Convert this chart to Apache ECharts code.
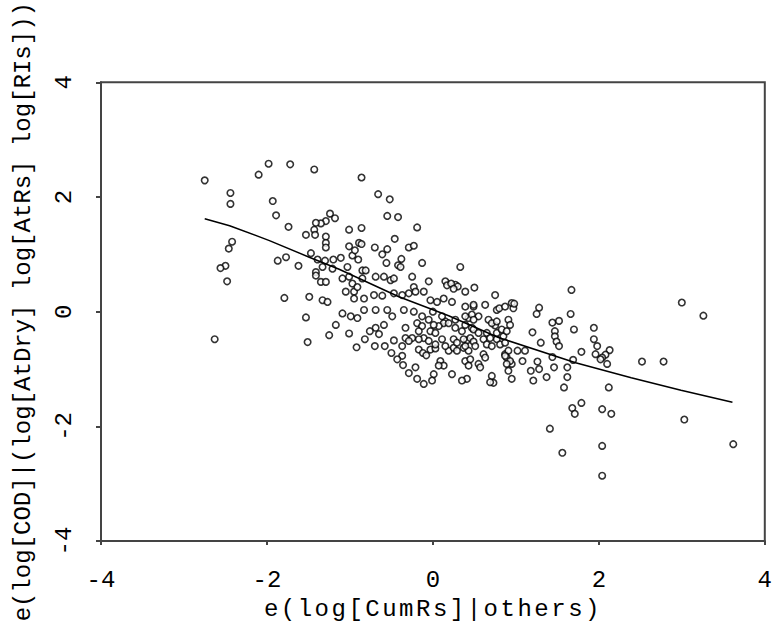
<!DOCTYPE html>
<html>
<head>
<meta charset="utf-8">
<script src="https://cdn.jsdelivr.net/npm/echarts@6/dist/echarts.min.js"></script>
<style>
html,body{margin:0;padding:0;background:#fff;}
#chart{width:775px;height:626px;}
</style>
</head>
<body>
<div id="chart"></div>
<script>
// Axis settings
const xTitle = 'e(log[CumRs]|others)';
const yTitle = 'e(log[COD]|(log[AtDry] log[AtRs] log[RIs]))';
const xTicks = [-4, -2, 0, 2, 4];
const yTicks = [-4, -2, 0, 2, 4];

// Scatter points (residual x, residual y)
const sx = [-2.75,-1.98,-1.72,-1.43,-2.10,-2.44,-2.44,-0.86,-0.66,-1.93,-1.89,-1.74,-1.24,-1.18,-1.29,-1.35,-1.41,-1.43,-1.53,-1.42,
-1.29,-1.29,-1.29,-1.01,-0.86,-1.01,-0.89,-0.86,-0.70,-2.42,-2.46,-2.50,-2.56,-1.87,-1.77,-1.62,-1.47,-1.39,-1.30,-1.20,
-1.11,-0.97,-0.94,-0.90,-1.03,-0.85,-1.33,-1.21,-2.63,-2.48,-1.79,-1.53,-1.51,-0.52,-0.55,-0.42,-0.19,-0.46,-0.55,-0.29,
-0.23,-0.61,-0.38,-0.13,0.33,-0.56,-0.42,-1.41,-1.41,-1.35,-1.29,-1.09,-1.01,-0.97,-0.85,-0.81,-0.69,-0.59,-0.51,-0.47,
-0.25,-0.05,0.15,0.17,0.27,0.39,0.50,-1.05,-0.95,-0.91,-0.95,-0.83,-1.49,-1.33,-1.27,-0.71,-0.61,-0.47,-0.37,-0.29,
-0.23,-0.21,-0.11,-0.03,0.05,0.13,0.23,0.39,0.49,0.63,0.77,-0.69,-0.55,-0.49,-0.35,-0.23,-0.13,0.00,-1.09,-0.99,
-0.91,-0.83,-1.17,-0.69,-0.59,0.15,0.27,0.43,0.55,0.67,0.75,0.47,0.22,0.30,0.25,0.75,1.67,0.49,0.80,0.87,
0.95,0.97,1.28,1.25,1.66,1.44,1.52,1.70,1.94,1.94,1.20,1.47,1.47,1.49,1.52,1.30,1.79,1.96,1.69,1.44,
1.62,1.46,1.37,1.62,1.58,1.28,1.18,1.21,1.08,1.02,1.11,0.95,0.95,0.71,0.73,0.69,0.41,0.35,0.23,0.01,
-0.21,-0.37,-0.17,-0.12,-0.03,0.03,-0.08,0.09,0.13,0.07,0.19,0.25,0.29,0.37,0.43,0.39,0.45,0.43,0.55,0.57,
0.61,0.63,0.87,0.89,0.91,0.77,0.81,0.87,0.61,0.65,0.71,0.41,0.45,0.49,0.39,0.51,0.25,0.29,0.37,0.27,
0.35,0.39,0.49,0.55,0.65,0.69,0.77,0.85,0.83,0.89,0.71,0.77,0.91,0.93,0.47,0.49,0.39,0.11,0.13,0.07,
0.19,-0.05,0.01,-0.03,0.03,-0.19,-0.13,-0.17,-0.11,-0.17,-0.25,-0.33,-0.33,-0.29,-0.37,-0.05,0.03,0.11,0.15,-0.39,
3.00,3.26,0.98,1.98,2.13,2.08,2.04,2.02,2.10,1.26,2.52,2.78,2.12,1.79,1.68,1.71,2.04,2.15,1.41,3.03,
2.04,1.56,3.62,2.04,0.93,0.89,0.91,0.87,-0.92,-0.76,-0.65,-0.58,-0.50,-0.43,-0.36,-0.47,-0.70,-0.82,-0.29,-0.19,
-0.11,-0.01,-1.01,-1.25];
const sy = [2.29,2.58,2.57,2.48,2.39,2.07,1.88,2.34,2.05,1.93,1.68,1.48,1.71,1.63,1.58,1.54,1.55,1.43,1.34,1.34,
1.31,1.20,1.12,1.43,1.46,1.14,1.20,1.18,1.12,1.22,1.10,0.80,0.76,0.89,0.95,0.80,1.02,0.91,0.89,0.91,
0.94,0.98,1.07,0.91,0.78,0.72,0.78,0.75,-0.48,0.53,0.24,-0.10,-0.53,1.96,1.67,1.65,1.47,1.27,1.09,1.12,
1.15,1.00,0.92,0.85,0.78,0.85,0.81,0.69,0.63,0.52,0.52,0.58,0.61,0.49,0.58,0.72,0.61,0.61,0.55,0.58,
0.61,0.53,0.53,0.46,0.47,0.35,0.42,0.35,0.35,0.43,0.23,0.23,0.26,0.20,0.17,0.29,0.28,0.32,0.29,0.32,
0.43,0.35,0.35,0.20,0.17,0.23,0.17,0.09,0.09,0.12,0.03,0.03,0.03,-0.08,0.03,0.00,-0.08,0.00,-0.03,-0.08,
-0.11,0.03,-0.23,-0.28,-0.23,-0.17,-0.14,-0.11,-0.08,-0.14,-0.24,-0.28,0.49,0.44,0.40,0.29,0.38,0.12,0.06,0.09,
0.15,0.06,0.07,-0.04,-0.04,-0.19,-0.16,-0.31,-0.28,-0.48,-0.36,-0.34,-0.43,-0.52,-0.60,-0.54,-0.70,-0.74,-0.84,-0.79,
-0.97,-0.97,-1.14,-1.14,-1.32,-1.00,-1.03,-1.20,-0.86,-0.68,-0.68,-0.91,-1.17,-1.12,-1.24,-1.23,-1.17,-1.20,-1.09,-1.09,
-0.97,-0.77,-0.66,-0.72,-0.66,-0.64,-0.76,-0.86,-0.94,-0.94,-0.68,-0.63,-0.68,-0.63,-0.68,-0.86,-0.83,-0.94,-0.91,-0.97,
-0.74,-0.80,-0.74,-0.80,-0.68,-0.48,-0.57,-0.54,-0.48,-0.57,-0.60,-0.50,-0.46,-0.52,-0.60,-0.60,-0.48,-0.54,-0.48,-0.28,
-0.34,-0.23,-0.31,-0.37,-0.37,-0.46,-0.37,-0.43,-0.31,-0.34,-0.20,-0.17,-0.14,-0.23,-0.05,-0.14,-0.08,-0.08,-0.20,-0.25,
-0.20,-0.14,-0.23,-0.34,-0.37,-0.20,-0.25,-0.34,-0.46,-0.48,-0.46,-0.28,-0.46,-0.51,-0.60,-0.51,-0.57,-0.48,-0.60,0.78,
0.16,-0.07,0.14,-0.60,-0.67,-0.75,-0.80,-0.83,-0.91,-0.87,-0.87,-0.87,-1.32,-1.59,-1.68,-1.78,-1.70,-1.78,-2.04,-1.88,
-2.34,-2.46,-2.31,-2.86,-0.86,-0.91,-1.03,-0.77,-0.62,-0.34,-0.39,-0.60,-0.72,-0.83,-0.93,-0.50,-0.60,-0.48,-1.07,-1.17,
-1.26,-1.20,-0.38,-0.41];

// Fitted smooth line
const lx = [-2.75,-2.45,-1.97,-1.49,-1.13,-0.41,0.19,0.79,1.72,2.39,2.99,3.61];
const ly = [1.62,1.50,1.24,0.95,0.74,0.26,-0.07,-0.45,-0.89,-1.15,-1.37,-1.58];

const points = sx.map((x, i) => [x, sy[i]]);
const linePts = lx.map((x, i) => [x, ly[i]]);

const FONT = 'Liberation Mono';
const AX = '#444';

const chart = echarts.init(document.getElementById('chart'), null, {renderer: 'svg'});
chart.on('finished', function () {
  document.querySelectorAll('#chart text').forEach(t => {
    if (t.textContent === xTitle) t.setAttribute('letter-spacing', '2.5px');
  });
});
chart.setOption({
  animation: false,
  backgroundColor: '#fff',
  grid: {left: 101, right: 8, top: 78, bottom: 83, show: true, borderColor: AX, borderWidth: 2, backgroundColor: 'transparent'},
  xAxis: {
    type: 'value', min: xTicks[0], max: xTicks[xTicks.length - 1], interval: 2,
    name: xTitle, nameLocation: 'middle', nameGap: 50,
    nameTextStyle: {fontFamily: FONT, fontSize: 24, color: '#000'},
    axisLine: {show: true, onZero: false, lineStyle: {color: AX, width: 2}},
    axisTick: {show: true, length: 4, lineStyle: {color: AX, width: 2}},
    axisLabel: {fontFamily: FONT, fontSize: 24, color: '#000', margin: 27},
    splitLine: {show: false}
  },
  yAxis: {
    type: 'value', min: yTicks[0], max: yTicks[yTicks.length - 1], interval: 2,
    name: yTitle, nameLocation: 'middle', nameGap: 66, nameRotate: 90,
    nameTextStyle: {fontFamily: FONT, fontSize: 24, color: '#000'},
    axisLine: {show: true, onZero: false, lineStyle: {color: AX, width: 2}},
    axisTick: {show: true, length: 5, lineStyle: {color: AX, width: 2}},
    axisLabel: {fontFamily: FONT, fontSize: 24, color: '#000', rotate: 90, margin: 25},
    splitLine: {show: false}
  },
  series: [
    {
      type: 'scatter', data: points, symbol: 'circle', symbolSize: 6.5,
      itemStyle: {color: '#fff', borderColor: '#000', borderWidth: 1.6},
      z: 2
    },
    {
      type: 'line', data: linePts, showSymbol: false, symbol: 'none',
      lineStyle: {color: '#000', width: 1.5}, z: 3
    }
  ]
});
</script>
</body>
</html>
